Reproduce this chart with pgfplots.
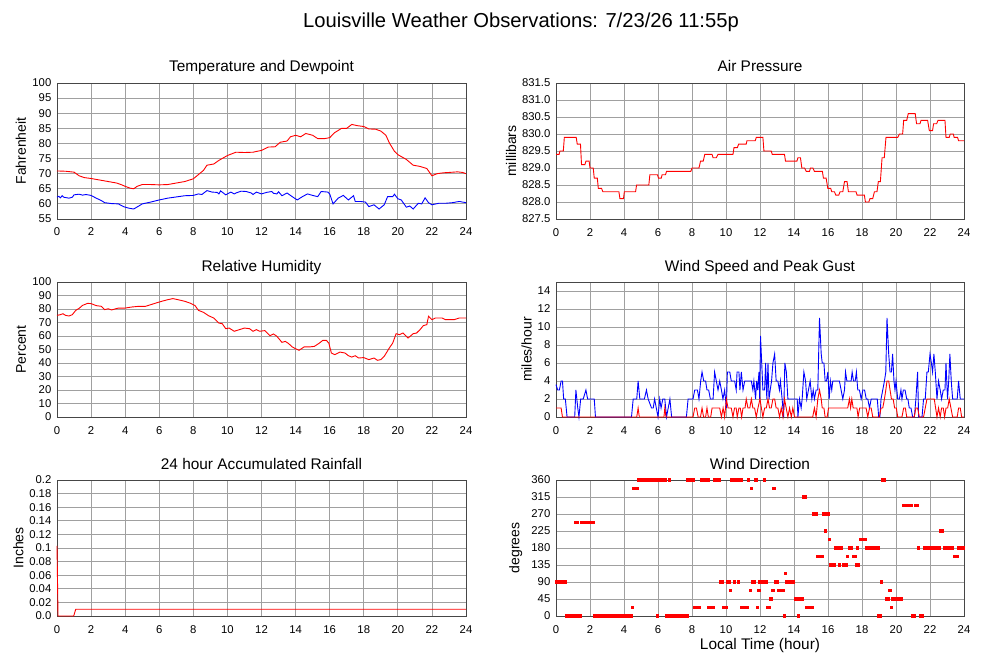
\documentclass[border=0pt]{standalone}
\usepackage{fontspec}
\setmainfont{Liberation Sans}
\usepackage{pgfplots}
\pgfplotsset{compat=1.18}
\definecolor{gridc}{RGB}{160,160,160}
\definecolor{framec}{RGB}{70,70,70}
\pgfplotsset{wx/.style={
  scale only axis, width=409pt, height=136pt,
  xmin=0, xmax=24, xtick={0,2,...,24},
  grid=major, major grid style={gridc, line width=0.8pt},
  axis line style={framec, line width=0.9pt},
  major tick length=0pt, tick style={draw=none},
  scaled y ticks=false, scaled x ticks=false,
  /pgf/number format/assume math mode=true,
  ticklabel style={font=\fontsize{11.3}{13}\selectfont, inner sep=0pt},
  xticklabel style={anchor=base, yshift=-17pt},
  yticklabel style={xshift=-5.5pt},
  title style={font=\fontsize{15.4}{18}\selectfont, at={(axis description cs:0.5,1)}, anchor=base, yshift=5pt},
  ylabel style={font=\fontsize{14}{16}\selectfont, anchor=base},
  clip=false,
  every axis plot/.append style={line width=0.9pt},
}}
\begin{document}
\begin{tikzpicture}
\useasboundingbox (0,0) rectangle (1000pt,-660pt);
\node[font=\fontsize{20.2}{24}\selectfont, anchor=base] at (521pt,-27.5pt) {Louisville Weather Observations: 7/23/26 11:55p};

% Temperature and Dewpoint
\begin{axis}[wx, at={(57pt,-83pt)}, anchor=north west,
  ymin=55, ymax=100, ytick={55,60,...,100},
  title={Temperature and Dewpoint}, ylabel={Fahrenheit},
  ylabel style={at={(axis description cs:-0.0758,0.5)}}]
\addplot[red, mark=none] coordinates {(0,70.9)(0.5,70.8)(1.0,70.5)(1.3,69.3)(1.6,68.7)(2.0,68.4)(2.5,67.9)(3.0,67.4)(3.5,66.9)(3.8,66.3)(4.0,65.8)(4.3,65.2)(4.5,65.0)(4.7,65.8)(5.0,66.4)(5.5,66.4)(6.0,66.3)(6.5,66.4)(7.0,66.9)(7.5,67.4)(8.0,68.3)(8.3,69.7)(8.6,71.1)(8.8,72.8)(9.2,73.2)(9.5,74.4)(10.0,76.0)(10.5,77.1)(11.0,77.0)(11.5,77.1)(12.0,77.7)(12.4,78.8)(12.8,78.9)(13.1,80.4)(13.5,80.8)(13.7,82.2)(14.0,82.7)(14.3,82.2)(14.6,83.3)(15.0,82.7)(15.3,81.6)(15.7,81.6)(16.0,81.9)(16.3,83.6)(16.7,85.0)(17.0,85.0)(17.3,86.3)(17.6,85.9)(18.0,85.6)(18.3,84.8)(18.7,84.7)(19.0,84.1)(19.3,82.7)(19.5,80.2)(19.8,77.4)(20.0,76.3)(20.5,74.7)(20.9,72.8)(21.3,72.4)(21.7,71.7)(22.0,69.3)(22.3,70.0)(22.7,70.3)(23.0,70.4)(23.5,70.6)(23.8,70.4)(24,70.0)};
\addplot[blue, mark=none] coordinates {(0,62.2)(0.1,62.5)(0.2,62.0)(0.3,62.7)(0.4,62.2)(0.7,61.9)(0.9,62.2)(1.0,63.0)(1.3,63.2)(1.5,62.9)(1.7,63.1)(2.0,62.8)(2.3,61.9)(2.6,61.1)(2.8,60.4)(3.2,60.1)(3.6,60.0)(3.9,59.1)(4.2,58.6)(4.5,58.3)(4.8,59.3)(5.0,60.0)(5.5,60.6)(6.0,61.3)(6.5,61.9)(7.0,62.3)(7.5,62.7)(8.0,62.8)(8.3,63.3)(8.5,63.1)(8.8,64.4)(9.1,63.9)(9.4,63.8)(9.5,63.3)(9.6,64.3)(9.9,63.0)(10.2,63.9)(10.4,63.3)(10.5,63.6)(10.8,64.2)(11.1,64.1)(11.4,63.6)(11.5,63.1)(11.7,63.9)(12.0,63.3)(12.3,63.8)(12.6,64.1)(12.7,63.5)(12.9,63.3)(13.0,64.0)(13.2,62.7)(13.5,63.6)(13.8,62.4)(14.1,61.3)(14.4,62.4)(14.7,63.3)(15.0,62.8)(15.3,62.4)(15.5,64.1)(15.9,63.9)(16.0,63.3)(16.2,60.0)(16.5,61.9)(16.8,62.8)(17.1,61.3)(17.4,62.7)(17.5,60.8)(17.8,60.8)(18.1,60.6)(18.3,59.1)(18.6,59.7)(18.9,58.3)(19.2,59.7)(19.4,62.4)(19.7,62.4)(19.8,63.2)(20.0,61.7)(20.2,61.3)(20.5,58.9)(20.7,59.3)(20.9,58.3)(21.2,60.2)(21.4,60.0)(21.6,62.0)(21.8,60.4)(22.0,59.7)(22.4,60.2)(22.8,60.2)(23.2,60.4)(23.6,60.8)(24,60.4)};
\end{axis}

% Air Pressure
\begin{axis}[wx, width=408pt, at={(556pt,-83pt)}, anchor=north west,
  ymin=827.5, ymax=831.5, ytick={827.5,828,...,831.5},
  yticklabel style={/pgf/number format/fixed, /pgf/number format/fixed zerofill, /pgf/number format/precision=1},
  title={Air Pressure}, ylabel={millibars},
  ylabel style={at={(axis description cs:-0.098,0.5)}}]
\addplot[red, mark=none] coordinates {(0,829.4)(0.18,829.4)(0.23,829.5)(0.43,829.5)(0.49,829.9)(1.19,829.9)(1.25,829.7)(1.44,829.7)(1.5,829.1)(1.7,829.1)(1.76,829.2)(1.95,829.2)(2.0,829.0)(2.19,829.0)(2.25,828.7)(2.43,828.7)(2.49,828.4)(2.68,828.4)(2.76,828.3)(3.7,828.3)(3.76,828.1)(3.97,828.1)(4.02,828.3)(4.68,828.3)(4.74,828.5)(5.46,828.5)(5.52,828.8)(5.97,828.8)(6.03,828.7)(6.19,828.7)(6.24,828.8)(6.44,828.8)(6.5,828.9)(7.93,828.9)(8.0,829.0)(8.41,829.0)(8.5,829.2)(8.66,829.2)(8.75,829.4)(9.18,829.4)(9.24,829.3)(9.43,829.3)(9.53,829.4)(10.41,829.4)(10.47,829.6)(10.67,829.6)(10.74,829.7)(11.19,829.7)(11.23,829.8)(11.72,829.8)(11.78,829.9)(12.17,829.9)(12.23,829.5)(12.66,829.5)(12.72,829.4)(13.44,829.4)(13.5,829.2)(14.17,829.2)(14.23,829.3)(14.38,829.3)(14.46,829.0)(14.62,829.0)(14.72,828.9)(14.91,828.9)(14.97,829.0)(15.11,829.0)(15.2,828.9)(15.67,828.9)(15.73,828.7)(15.89,828.7)(15.99,828.4)(16.16,828.4)(16.22,828.3)(16.38,828.3)(16.46,828.2)(16.63,828.2)(16.71,828.3)(16.87,828.3)(16.97,828.6)(17.12,828.6)(17.2,828.3)(17.65,828.3)(17.71,828.2)(18.14,828.2)(18.2,828.0)(18.4,828.0)(18.47,828.1)(18.63,828.1)(18.73,828.3)(18.88,828.3)(18.96,828.6)(19.08,828.6)(19.18,829.3)(19.31,829.3)(19.41,829.9)(20.1,829.9)(20.2,830.0)(20.39,830.0)(20.45,830.4)(20.63,830.4)(20.72,830.6)(21.13,830.6)(21.21,830.3)(21.41,830.3)(21.47,830.4)(21.86,830.4)(21.96,830.1)(22.15,830.1)(22.21,830.3)(22.39,830.3)(22.47,830.4)(22.88,830.4)(22.94,829.9)(23.13,829.9)(23.19,830.0)(23.37,830.0)(23.42,829.9)(23.62,829.9)(23.68,829.8)(24,829.8)};
\end{axis}

% Relative Humidity
\begin{axis}[wx, height=135pt, at={(57pt,-282pt)}, anchor=north west,
  ymin=0, ymax=100, ytick={0,10,...,100},
  title={Relative Humidity}, ylabel={Percent},
  ylabel style={at={(axis description cs:-0.0758,0.5)}}]
\addplot[red, mark=none] coordinates {(0,75.3)(0.2,75.8)(0.35,76.5)(0.5,75.3)(0.7,74.8)(0.9,75.8)(1.1,79.0)(1.3,80.5)(1.5,82.7)(1.8,84.2)(2.0,84.0)(2.3,82.5)(2.6,82.0)(2.8,79.5)(3.0,80.2)(3.2,79.3)(3.4,80.0)(3.6,80.7)(4.0,80.7)(4.4,81.5)(4.8,82.0)(5.2,82.0)(5.5,83.2)(5.8,84.4)(6.2,85.9)(6.5,86.9)(6.8,87.7)(7.1,86.9)(7.5,85.7)(7.8,84.4)(8.1,82.5)(8.3,79.0)(8.6,77.5)(8.9,75.0)(9.2,73.3)(9.5,69.6)(9.7,69.1)(9.9,65.4)(10.1,65.9)(10.4,63.5)(10.7,64.7)(11.0,65.9)(11.3,65.4)(11.5,63.5)(11.7,64.7)(11.9,63.5)(12.2,64.0)(12.5,60.2)(12.7,61.5)(12.9,59.8)(13.2,55.3)(13.4,56.0)(13.6,54.3)(13.8,51.9)(14.0,50.6)(14.2,49.4)(14.5,51.9)(14.8,51.9)(15.1,52.3)(15.4,54.8)(15.6,56.8)(15.8,56.8)(15.95,54.8)(16.1,47.4)(16.3,46.2)(16.6,48.1)(16.9,47.4)(17.1,45.4)(17.3,44.4)(17.5,45.4)(17.7,43.7)(18.0,44.0)(18.3,42.5)(18.6,43.7)(18.8,42.0)(19.0,42.5)(19.2,44.9)(19.5,51.1)(19.7,54.8)(19.9,61.7)(20.1,61.0)(20.3,62.2)(20.6,58.5)(20.9,61.7)(21.1,62.2)(21.3,64.7)(21.5,67.7)(21.7,68.4)(21.8,74.6)(22.0,72.1)(22.2,73.3)(22.6,73.3)(22.8,72.1)(23.3,72.1)(23.6,73.3)(24,73.3)};
\end{axis}

% Wind Speed and Peak Gust
\begin{axis}[wx, width=408pt, height=135pt, at={(556pt,-282pt)}, anchor=north west,
  ymin=0, ymax=15, ytick={0,2,...,14},
  title={Wind Speed and Peak Gust}, ylabel={miles/hour},
  ylabel style={at={(axis description cs:-0.060,0.5)}}]
\addplot[blue, mark=none] coordinates {(0,3.6)(0.1,3)(0.2,3)(0.3,4)(0.38,4)(0.45,2)(0.55,2)(0.65,0)(1.1,0)(1.17,3)(1.28,1)(1.35,0)(1.45,2)(1.6,2)(1.76,3)(1.86,2)(2.25,2)(2.32,0)(4.44,0)(4.54,2)(4.75,2)(4.83,4)(4.93,2)(5.2,2)(5.32,3)(5.42,2)(5.62,1)(5.72,1)(5.8,2)(5.9,1)(6.0,0)(6.1,2)(6.18,1)(6.28,2)(6.4,2)(6.5,0)(6.6,1)(6.7,2)(6.8,0)(7.67,0)(7.77,2)(8.06,2)(8.16,3)(8.32,3)(8.41,2)(8.51,4)(8.59,5)(8.69,4)(8.8,4)(8.88,3)(8.98,3)(9.08,2)(9.24,2)(9.33,5)(9.43,4)(9.53,3)(9.63,4)(9.73,3)(9.82,2)(9.92,3)(9.97,2)(10.02,1)(10.08,5)(10.22,5)(10.31,4)(10.51,4)(10.6,3)(10.65,5)(10.76,5)(10.82,3)(10.9,5)(11.0,3)(11.1,4)(11.49,4)(11.58,3)(11.64,4)(11.74,2)(11.8,4)(11.86,3)(11.94,5)(11.98,2)(12.03,9)(12.1,6)(12.17,3)(12.27,3)(12.33,6)(12.4,2)(12.47,6)(12.53,2)(12.6,3)(12.68,4)(12.76,6)(12.86,7)(12.95,4)(13.05,4)(13.14,3)(13.2,4)(13.3,2)(13.39,0)(13.46,6)(13.55,5)(13.64,2)(14.19,2)(14.23,0)(14.32,2)(14.42,1)(14.48,2)(14.58,5)(14.68,4)(14.75,2)(14.85,3)(14.95,4)(15.05,2)(15.13,3)(15.2,2)(15.3,3)(15.4,3)(15.5,11)(15.6,7)(15.66,6)(15.76,6)(15.83,4)(15.91,4)(15.99,5)(16.07,2)(16.14,4)(16.22,3)(16.28,4)(16.67,4)(16.77,3)(16.87,2)(16.97,3)(17.03,5)(17.11,4)(17.36,4)(17.42,5)(17.5,4)(17.6,4)(17.67,5)(17.75,3)(17.85,3)(17.95,2)(18.05,3)(18.15,3)(18.25,2)(18.34,2)(18.44,1)(18.54,2)(18.9,2)(18.98,0)(19.05,0)(19.12,2)(19.22,3)(19.32,4)(19.4,5)(19.47,11)(19.57,7)(19.65,5)(19.73,5)(19.8,7)(19.88,4)(19.94,3)(20.0,4)(20.1,2)(20.2,2)(20.29,3)(20.35,2)(20.43,3)(20.53,3)(20.63,2)(20.7,2)(20.78,1)(20.88,1)(20.98,0)(21.08,0)(21.17,2)(21.27,5)(21.33,0)(21.53,0)(21.62,2)(21.72,2)(21.82,5)(21.9,5)(22.0,7)(22.08,6)(22.15,5)(22.23,7)(22.31,5)(22.41,2)(22.5,4)(22.6,3)(22.68,2)(22.78,3)(22.88,3)(22.94,6)(23.03,2)(23.1,4)(23.17,7)(23.25,4)(23.33,2)(23.6,2)(23.68,4)(23.78,2)(24,2)};
\addplot[red, mark=none] coordinates {(0,1)(0.3,1)(0.38,0)(4.75,0)(4.83,1)(4.9,0)(6.35,0)(6.4,1)(6.47,0)(8.06,0)(8.16,1)(8.26,1)(8.36,0)(8.5,0)(8.59,1)(8.68,0)(8.8,0)(8.88,1)(8.96,0)(9.1,0)(9.18,1)(9.63,1)(9.73,0)(9.83,1)(9.92,0)(10.02,2)(10.12,1)(10.31,1)(10.41,0)(10.5,1)(10.6,1)(10.66,0)(10.76,1)(10.84,1)(10.92,0)(11.0,1)(11.12,1)(11.19,2)(11.29,1)(11.4,1)(11.49,2)(11.58,1)(11.68,1)(11.78,0)(11.88,1)(12.0,2)(12.08,1)(12.17,0)(12.27,1)(12.37,1)(12.47,2)(12.56,1)(12.66,1)(12.76,2)(12.86,2)(12.95,1)(13.05,1)(13.15,0)(13.25,1)(13.35,0)(13.44,2)(13.54,1)(13.64,0)(13.74,1)(13.84,0)(13.93,1)(14.03,0)(15.1,0)(15.2,1)(15.3,0)(15.4,2)(15.5,3)(15.6,2)(15.66,1)(15.76,1)(15.83,0)(15.95,0)(16.03,1)(17.16,1)(17.26,2)(17.33,1)(17.4,2)(17.48,1)(17.7,1)(17.77,0)(17.86,1)(18.24,1)(18.34,0)(18.44,1)(18.54,1)(18.63,0)(19.02,0)(19.12,1)(19.22,1)(19.32,2)(19.4,3)(19.47,4)(19.57,4)(19.65,3)(19.73,2)(19.83,2)(19.92,1)(20.02,1)(20.1,0)(20.35,0)(20.45,1)(20.55,1)(20.63,0)(21.07,0)(21.17,1)(21.27,1)(21.37,0)(21.62,0)(21.72,1)(21.82,2)(22.25,2)(22.33,1)(22.41,0)(22.5,1)(22.6,0)(22.68,1)(22.78,1)(22.86,0)(22.94,1)(23.04,1)(23.13,2)(23.23,1)(23.33,0)(23.6,0)(23.68,1)(23.78,1)(23.86,0)(24,0)};
\end{axis}

% Rainfall
\begin{axis}[wx, at={(57pt,-480pt)}, anchor=north west,
  ymin=0, ymax=0.2, ytick={0,0.02,0.04,0.06,0.08,0.1,0.12,0.14,0.16,0.18,0.2},
  yticklabels={0.0,0.02,0.04,0.06,0.08,0.1,0.12,0.14,0.16,0.18,0.2},
  title={24 hour Accumulated Rainfall}, ylabel={Inches},
  ylabel style={at={(axis description cs:-0.0824,0.5)}}]
\addplot[red, mark=none] coordinates {(0,0.103)(0.06,0)(0.98,0)(1.1,0.01)(24,0.01)};
\end{axis}

% Wind Direction
\begin{axis}[wx, width=408pt, at={(556pt,-480pt)}, anchor=north west,
  ymin=0, ymax=360, ytick={0,45,...,360},
  title={Wind Direction}, ylabel={degrees},
  ylabel style={at={(axis description cs:-0.0895,0.5)}},
  xlabel={Local Time (hour)},
  xlabel style={font=\fontsize{15.4}{18}\selectfont, at={(axis description cs:0.5,0)}, anchor=base, yshift=-33pt}]
\addplot[red, only marks, mark=square*, mark size=1.1pt, mark options={draw=none, fill=red}] coordinates {
(0.06,90)(0.16,90)(0.26,90)(0.36,90)(0.46,90)(0.56,90)
(0.62,0)(0.72,0)(0.82,0)(0.92,0)(1.02,0)(1.12,0)
(1.17,247.5)(1.27,247.5)(1.35,0)(1.45,0)
(1.52,247.5)(1.62,247.5)(1.72,247.5)(1.82,247.5)(1.92,247.5)(2.02,247.5)(2.12,247.5)(2.22,247.5)
(2.28,0)(2.38,0)(2.48,0)(2.58,0)(2.68,0)(2.78,0)(2.88,0)(2.98,0)(3.08,0)(3.18,0)(3.28,0)(3.38,0)(3.48,0)(3.58,0)(3.68,0)(3.78,0)(3.88,0)(3.98,0)(4.08,0)(4.18,0)(4.28,0)(4.38,0)(4.43,0)
(4.5,22.5)(4.58,337.5)(4.68,337.5)(4.78,337.5)
(4.86,360)(4.96,360)(5.06,360)(5.16,360)(5.26,360)(5.36,360)(5.46,360)(5.56,360)(5.66,360)(5.76,360)(5.86,360)(5.96,360)(6.06,360)(6.16,360)(6.26,360)(6.36,360)(6.46,360)(6.65,360)
(5.99,0)
(6.52,0)(6.62,0)(6.72,0)(6.82,0)(6.92,0)(7.02,0)(7.12,0)(7.22,0)(7.32,0)(7.42,0)(7.52,0)(7.62,0)(7.72,0)
(7.76,360)(7.86,360)(7.96,360)(8.06,360)
(8.15,22.5)(8.25,22.5)(8.35,22.5)(8.45,22.5)
(8.55,360)(8.65,360)(8.75,360)(8.85,360)(8.95,360)
(9.0,22.5)(9.1,22.5)(9.2,22.5)(9.28,22.5)
(9.33,360)(9.43,360)(9.53,360)(9.62,360)
(9.68,90)(9.77,90)(9.84,22.5)(9.94,22.5)(10.04,22.5)(10.08,90)(10.18,90)(10.25,67.5)
(10.3,360)(10.4,360)(10.5,360)(10.6,360)(10.7,360)(10.8,360)(10.88,360)
(10.51,90)(10.74,90)
(10.94,22.5)(11.04,22.5)(11.14,22.5)(11.24,22.5)
(11.33,360)(11.45,67.5)(11.49,337.5)(11.58,90)(11.68,90)(11.76,360)(11.84,22.5)(11.94,67.5)
(12.0,90)(12.1,90)(12.2,90)(12.3,90)(12.38,90)(12.24,360)
(12.44,22.5)(12.52,22.5)(12.6,45)(12.68,45)(12.76,67.5)(12.82,337.5)(12.92,90)(13.0,90)
(13.08,67.5)(13.18,67.5)(13.28,67.5)(13.36,67.5)(13.44,0)(13.51,112.5)
(13.58,90)(13.68,90)(13.78,90)(13.88,90)(13.98,90)
(14.1,45)(14.2,45)(14.3,45)(14.4,45)(14.5,45)(14.26,0)
(14.56,315)(14.66,315)
(14.76,22.5)(14.86,22.5)(14.96,22.5)(15.06,22.5)
(15.14,270)(15.24,270)(15.32,270)
(15.38,157.5)(15.48,157.5)(15.58,157.5)(15.66,157.5)
(15.72,270)(15.82,270)(15.92,270)(16.02,270)(15.85,225)(16.08,202.5)
(16.16,135)(16.26,135)(16.35,135)
(16.42,180)(16.52,180)(16.62,180)(16.72,180)(16.8,180)(16.67,135)
(16.9,135)(17.0,135)(17.1,135)(17.16,157.5)(17.28,180)(17.38,180)(17.48,157.5)(17.58,157.5)
(17.68,135)(17.8,135)(17.74,180)
(17.9,202.5)(18.0,202.5)(18.1,202.5)(18.2,202.5)
(18.28,180)(18.38,180)(18.48,180)(18.58,180)(18.68,180)(18.78,180)(18.88,180)(18.95,180)
(18.99,0)(19.06,0)(19.15,90)(19.22,360)(19.32,360)(19.45,45)(19.55,45)(19.64,67.5)(19.74,22.5)
(19.82,45)(19.92,45)(20.02,45)(20.12,45)(20.22,45)(20.32,45)
(20.42,292.5)(20.52,292.5)(20.62,292.5)(20.72,292.5)(20.82,292.5)(20.92,292.5)
(21.0,0)(21.08,0)(21.17,292.5)(21.27,292.5)(21.33,180)(21.46,0)(21.56,0)
(21.68,180)(21.78,180)(21.88,180)(21.98,180)(22.08,180)(22.18,180)(22.28,180)(22.38,180)(22.48,180)(22.56,180)
(22.6,225)(22.7,225)
(22.84,180)(22.94,180)(23.04,180)(23.14,180)(23.24,180)(23.34,180)
(23.42,157.5)(23.52,157.5)(23.62,157.5)
(23.7,180)(23.8,180)(23.9,180)(23.98,180)};
\end{axis}
\end{tikzpicture}
\end{document}
